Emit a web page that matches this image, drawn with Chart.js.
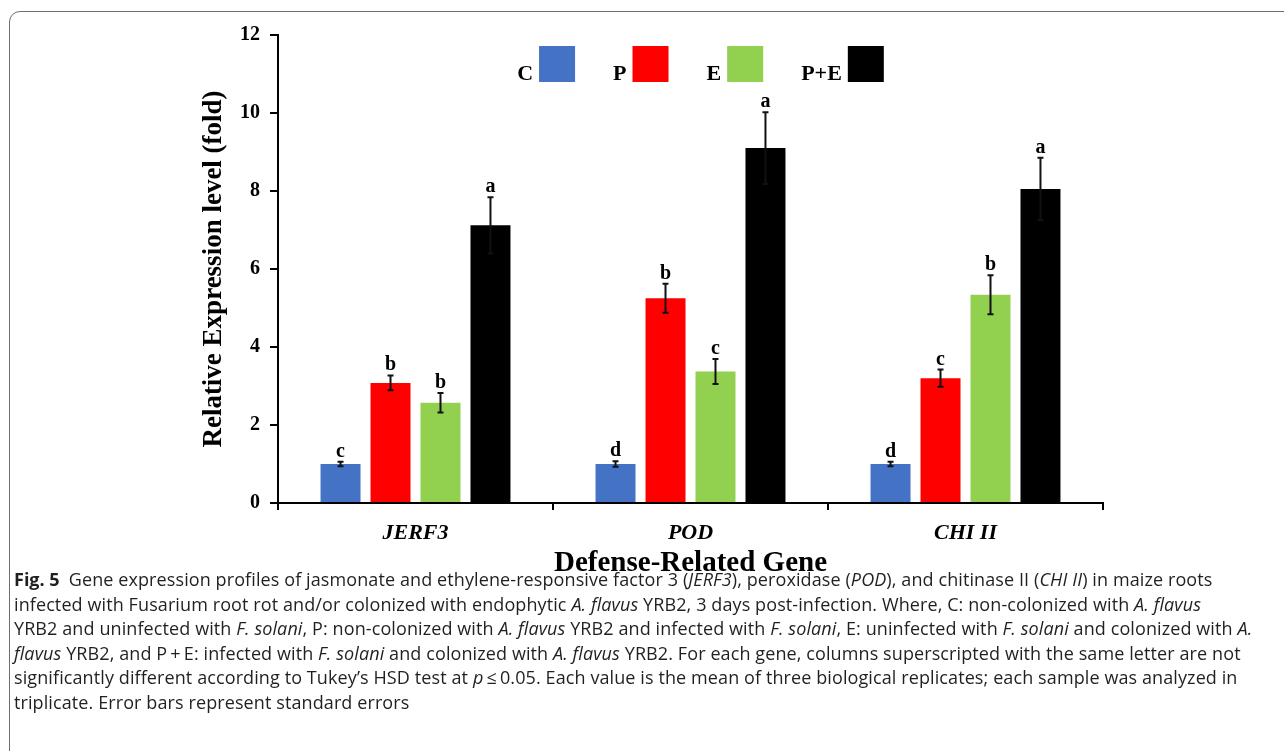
<!DOCTYPE html>
<html><head><meta charset="utf-8">
<script src="https://cdn.jsdelivr.net/npm/chart.js@4.4.0/dist/chart.umd.min.js"></script>
<style>
html,body{margin:0;padding:0;background:#fff;width:1284px;height:751px;overflow:hidden;}
#frame{position:absolute;left:9px;top:11px;width:1320px;height:780px;border:1.6px solid #6e6e6e;border-radius:11px;box-sizing:border-box;}
#wrap{position:absolute;left:0;top:0;width:1284px;height:600px;}
#cap{position:absolute;left:14px;top:567px;font-family:"Open Sans",sans-serif;font-size:18px;line-height:24.6px;color:#231f20;letter-spacing:0.1px;white-space:nowrap;}
#cap b{letter-spacing:0;}
</style></head>
<body>
<div id="frame"></div>
<div id="wrap"><canvas id="c" width="1284" height="600"></canvas></div>
<div id="cap"><b>Fig. 5</b>&ensp;Gene expression profiles of jasmonate and ethylene-responsive factor 3 (<i>JERF3</i>), peroxidase (<i>POD</i>), and chitinase II (<i>CHI II</i>) in maize roots<br>infected with Fusarium root rot and/or colonized with endophytic <i>A. flavus</i> YRB2, 3 days post-infection. Where, C: non-colonized with <i>A. flavus</i><br>YRB2 and uninfected with <i>F. solani</i>, P: non-colonized with <i>A. flavus</i> YRB2 and infected with <i>F. solani</i>, E: uninfected with <i>F. solani</i> and colonized with <i>A.</i><br><i>flavus</i> YRB2, and P&thinsp;+&thinsp;E: infected with <i>F. solani</i> and colonized with <i>A. flavus</i> YRB2. For each gene, columns superscripted with the same letter are not<br>significantly different according to Tukey’s HSD test at <i>p</i>&thinsp;≤&thinsp;0.05. Each value is the mean of three biological replicates; each sample was analyzed in<br>triplicate. Error bars represent standard errors</div>
<script>
// ---- data ----
const genes = ['JERF3', 'POD', 'CHI II'];
const seriesNames = ['C', 'P', 'E', 'P+E'];
const valuesC  = [1.00, 1.00, 1.00];
const valuesP  = [3.08, 5.25, 3.20];
const valuesE  = [2.57, 3.37, 5.34];
const valuesPE = [7.12, 9.10, 8.05];
const errC  = [0.06, 0.07, 0.06];
const errP  = [0.19, 0.37, 0.22];
const errE  = [0.25, 0.32, 0.50];
const errPE = [0.72, 0.92, 0.80];
const lettersC  = ['c', 'd', 'd'];
const lettersP  = ['b', 'b', 'c'];
const lettersE  = ['b', 'c', 'b'];
const lettersPE = ['a', 'a', 'a'];
const yTicks = [0, 2, 4, 6, 8, 10, 12];

const colors = ['#4472C4', '#FF0000', '#92D050', '#000000'];
const allValues = [valuesC, valuesP, valuesE, valuesPE];
const allErr = [errC, errP, errE, errPE];
const allLetters = [lettersC, lettersP, lettersE, lettersPE];
const SERIF = '"Liberation Serif", "Times New Roman", serif';

const errorBarPlugin = {
  id: 'errbars',
  afterDatasetsDraw(chart) {
    const ctx = chart.ctx;
    const y = chart.scales.y;
    ctx.save();
    chart.data.datasets.forEach((ds, di) => {
      const meta = chart.getDatasetMeta(di);
      meta.data.forEach((bar, i) => {
        const v = ds.data[i], e = allErr[di][i];
        const yt = y.getPixelForValue(v + e), yb = y.getPixelForValue(v - e);
        ctx.strokeStyle = '#111';
        ctx.lineWidth = 2;
        ctx.beginPath();
        ctx.moveTo(bar.x, yt); ctx.lineTo(bar.x, yb);
        ctx.moveTo(bar.x - 3, yt); ctx.lineTo(bar.x + 3, yt);
        ctx.moveTo(bar.x - 3, yb); ctx.lineTo(bar.x + 3, yb);
        ctx.stroke();
        ctx.fillStyle = '#000';
        ctx.font = 'bold 20px ' + SERIF;
        ctx.textAlign = 'center';
        ctx.textBaseline = 'alphabetic';
        ctx.fillText(allLetters[di][i], bar.x, yt - 5);
      });
    });
    ctx.restore();
  }
};

const legendPlugin = {
  id: 'customLegend',
  afterDraw(chart) {
    const ctx = chart.ctx;
    const ca = chart.chartArea;
    const box = 36, tgap = 6, igap = 38;
    ctx.save();
    ctx.font = 'bold 22px ' + SERIF;
    const widths = chart.data.datasets.map(ds => ctx.measureText(ds.label).width + tgap + box);
    const total = widths.reduce((a, b) => a + b, 0) + igap * (widths.length - 1);
    let x = (ca.left + ca.right) / 2 + 10 - total / 2;
    const top = ca.top + 11;
    chart.data.datasets.forEach((ds, i) => {
      const tw = ctx.measureText(ds.label).width;
      ctx.fillStyle = '#000';
      ctx.textAlign = 'left';
      ctx.textBaseline = 'alphabetic';
      ctx.fillText(ds.label, x, top + box - 2);
      ctx.fillStyle = ds.backgroundColor;
      ctx.fillRect(x + tw + tgap, top, box, box);
      x += widths[i] + igap;
    });
    ctx.restore();
  }
};

new Chart(document.getElementById('c'), {
  type: 'bar',
  data: {
    labels: genes,
    datasets: seriesNames.map((name, i) => ({
      label: name,
      data: allValues[i],
      backgroundColor: colors[i],
      borderWidth: 0,
      categoryPercentage: 0.727,
      barPercentage: 0.8
    }))
  },
  options: {
    responsive: false,
    animation: false,
    devicePixelRatio: 1,
    layout: { padding: { top: 35, right: 181, left: 0, bottom: 0 } },
    plugins: { legend: { display: false }, tooltip: { enabled: false } },
    scales: {
      x: {
        afterFit(s) { s.height = 97; },
        border: { display: true, color: '#000', width: 2 },
        grid: { display: true, drawOnChartArea: false, drawTicks: true, tickLength: 7, color: '#000', lineWidth: 2 },
        ticks: { color: '#000', padding: 10, font: { family: SERIF, size: 22, weight: 'bold', style: 'italic' } },
        title: { display: true, text: 'Defense-Related Gene', color: '#000', padding: { top: 0, bottom: 19 },
                 font: { family: SERIF, size: 29, weight: 'bold' } }
      },
      y: {
        min: 0, max: 12,
        afterFit(s) { s.width = 278; },
        afterBuildTicks(s) { s.ticks = yTicks.map(v => ({ value: v })); },
        border: { display: true, color: '#000', width: 2 },
        grid: { display: true, drawOnChartArea: false, drawTicks: true, tickLength: 8, color: '#000', lineWidth: 2 },
        ticks: { color: '#000', padding: 10, font: { family: SERIF, size: 20, weight: 'bold' } },
        title: { display: true, text: 'Relative Expression level (fold)', color: '#000', padding: { top: 198, bottom: 0 },
                 font: { family: SERIF, size: 27, weight: 'bold' } }
      }
    }
  },
  plugins: [errorBarPlugin, legendPlugin]
});
</script>
</body></html>
